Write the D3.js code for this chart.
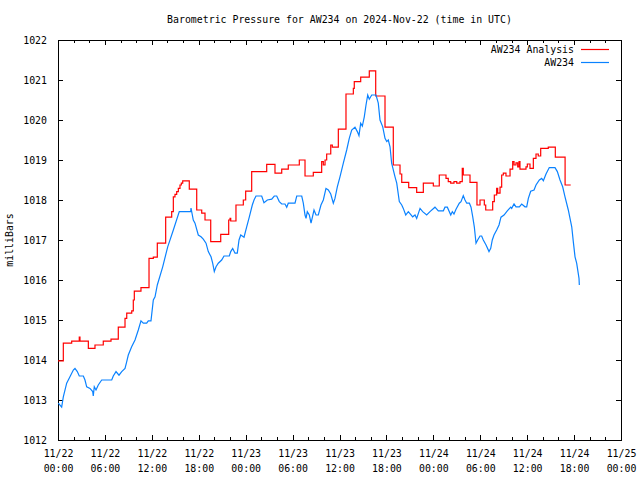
<!DOCTYPE html>
<html><head><meta charset="utf-8">
<script src="https://cdn.jsdelivr.net/npm/d3@7/dist/d3.min.js"></script>
<style>
html,body{margin:0;padding:0;background:#fff;}
text{font-family:"DejaVu Sans Mono",monospace;font-size:9.9px;fill:#000;}
</style></head>
<body>
<svg id="chart" width="640" height="480"></svg>
<script>
// ---- data (hours since 2024-11-22 00:00 UTC, millibars) ----
const titleText = "Barometric Pressure for AW234 on 2024-Nov-22 (time in UTC)";
const yLabel = "milliBars";
const seriesNames = ["AW234 Analysis", "AW234"];
const xTickHours = [0,6,12,18,24,30,36,42,48,54,60,66,72];
const xTickDates = ["11/22","11/22","11/22","11/22","11/23","11/23","11/23","11/23","11/24","11/24","11/24","11/24","11/25"];
const xTickTimes = ["00:00","06:00","12:00","18:00","00:00","06:00","12:00","18:00","00:00","06:00","12:00","18:00","00:00"];
const xMinorHours = d3.range(0, 73, 2);
const yTicks = [1012,1013,1014,1015,1016,1017,1018,1019,1020,1021,1022];

const analysisHours = [0,0.68,1.75,2.72,2.81,3.88,4.73,5.79,6.78,7.71,8.57,8.79,9.43,9.63,9.76,10.61,11.64,12.19,12.70,13.77,14.54,14.75,14.96,15.18,15.39,15.60,15.77,15.95,16.79,17.74,18.38,18.80,19.53,20.81,21.83,22.00,22.09,22.76,23.70,24.00,24.77,26.69,27.75,28.61,29.45,30.86,31.59,32.65,33.72,33.93,34.15,34.36,34.88,35.08,35.85,36.83,37.77,37.89,38.71,39.81,40.63,41.82,42.88,43.74,43.96,44.85,45.87,46.72,48.00,48.76,49.62,49.91,50.22,50.64,50.99,51.41,51.70,51.83,52.69,53.58,53.97,54.52,54.70,55.59,55.80,56.10,56.23,56.53,56.74,56.95,57.29,57.81,58.15,58.32,58.57,58.79,58.96,59.08,59.85,60.02,60.36,60.79,61.13,61.42,61.73,62.70,63.60,64.85,65.57];
const analysisValues = [1013.98,1014.42,1014.47,1014.57,1014.47,1014.29,1014.375,1014.47,1014.52,1014.82,1015.04,1015.17,1015.23,1015.5,1015.72,1015.81,1016.54,1016.57,1016.92,1017.57,1017.71,1018.08,1018.14,1018.21,1018.29,1018.375,1018.42,1018.48,1018.27,1017.75,1017.67,1017.5,1016.96,1017.14,1017.5,1017.54,1017.475,1017.875,1018.0,1018.22,1018.71,1018.89,1018.67,1018.77,1018.875,1019.0,1018.6,1018.69,1018.96,1018.875,1019.0,1019.15,1019.375,1019.32,1019.77,1020.65,1020.79,1020.96,1021.07,1021.23,1020.6,1019.82,1018.875,1018.65,1018.44,1018.31,1018.19,1018.42,1018.35,1018.625,1018.54,1018.46,1018.42,1018.46,1018.42,1018.46,1018.79,1018.625,1018.44,1017.875,1018.0,1017.875,1017.75,1017.96,1018.125,1018.29,1018.17,1018.32,1018.625,1018.67,1018.6,1018.77,1018.96,1018.875,1018.93,1018.83,1018.96,1018.77,1018.83,1018.9,1018.79,1019.04,1019.15,1019.1,1019.29,1019.32,1019.07,1018.375,1018.375];

const obsHours = [0.04,0.47,0.68,1.11,1.53,1.96,2.17,2.47,2.72,3.24,3.45,3.67,4.09,4.44,4.51,4.64,4.86,5.15,5.59,6.87,7.07,7.42,7.80,8.15,8.57,8.79,8.99,9.42,9.85,10.27,10.61,10.91,11.34,11.55,11.89,12.19,12.41,12.70,13.39,14.03,14.75,15.51,16.97,17.01,17.30,17.52,17.94,18.29,18.58,18.93,19.22,19.57,19.78,19.99,20.21,20.50,20.93,21.23,21.91,22.09,22.34,22.64,22.93,23.15,23.37,23.79,24.13,24.47,24.85,25.07,25.32,26.05,26.34,26.77,27.33,27.66,27.97,28.30,28.61,29.03,29.25,29.45,30.31,30.53,31.17,31.37,31.59,31.72,31.88,32.14,32.36,32.74,33.00,33.29,33.63,33.93,34.27,34.57,34.88,35.21,35.42,35.72,36.06,36.49,36.92,37.25,37.56,37.98,38.28,38.49,38.71,38.92,39.17,39.39,39.61,39.81,40.12,40.67,40.96,41.18,41.53,41.82,42.04,42.24,42.46,42.67,43.10,43.32,43.65,43.96,44.16,44.47,44.80,45.36,45.66,45.87,46.30,46.64,47.15,47.57,48.21,48.64,49.28,49.49,49.79,50.23,50.43,50.64,50.90,51.32,51.54,51.83,52.05,52.27,52.61,52.82,53.04,53.24,53.46,53.67,53.97,54.18,54.39,54.74,55.12,55.34,55.54,55.76,56.10,56.40,56.65,57.04,57.46,57.89,58.02,58.32,58.57,59.00,59.30,59.72,59.94,60.15,60.45,60.88,61.13,61.56,61.86,62.07,62.41,62.83,63.56,63.86,64.20,64.54,64.84,65.26,65.70,65.90,66.12,66.33,66.63,66.67];
const obsValues = [1012.92,1012.82,1013.08,1013.42,1013.58,1013.75,1013.79,1013.71,1013.6,1013.6,1013.5,1013.33,1013.29,1013.21,1013.1,1013.33,1013.25,1013.375,1013.5,1013.5,1013.6,1013.71,1013.62,1013.71,1013.79,1013.96,1014.125,1014.33,1014.5,1014.75,1014.98,1014.92,1014.92,1014.98,1014.98,1015.5,1015.58,1015.875,1016.33,1016.83,1017.25,1017.71,1017.71,1017.8,1017.5,1017.42,1017.125,1017.08,1017.02,1016.92,1016.71,1016.58,1016.42,1016.21,1016.33,1016.42,1016.5,1016.6,1016.6,1016.71,1016.79,1016.67,1016.67,1017.0,1017.125,1017.07,1017.33,1017.58,1017.875,1018.0,1018.1,1018.1,1017.93,1018.0,1018.02,1018.1,1018.1,1017.96,1017.9,1017.9,1017.82,1017.92,1017.92,1018.1,1018.1,1017.92,1017.625,1017.54,1017.71,1017.625,1017.42,1017.75,1017.625,1017.625,1017.875,1018.0,1018.29,1018.25,1018.15,1017.92,1018.04,1018.33,1018.58,1018.92,1019.25,1019.54,1019.75,1019.82,1019.71,1019.61,1019.92,1019.85,1020.08,1020.375,1020.625,1020.52,1020.625,1020.625,1020.42,1020.0,1019.83,1019.54,1019.46,1019.5,1019.33,1018.92,1018.58,1018.42,1017.96,1017.875,1017.79,1017.625,1017.71,1017.58,1017.625,1017.54,1017.79,1017.71,1017.625,1017.71,1017.82,1017.73,1017.73,1017.82,1017.82,1017.625,1017.71,1017.65,1017.77,1017.92,1017.96,1018.11,1018.0,1017.92,1017.92,1017.82,1017.58,1017.33,1016.92,1017.0,1017.1,1017.1,1017.0,1016.875,1016.71,1016.79,1017.0,1017.125,1017.25,1017.375,1017.57,1017.625,1017.73,1017.82,1017.79,1017.9,1017.83,1017.83,1017.9,1017.83,1017.83,1018.04,1018.22,1018.25,1018.375,1018.5,1018.54,1018.48,1018.65,1018.81,1018.81,1018.71,1018.5,1018.33,1018.08,1017.75,1017.33,1016.96,1016.58,1016.42,1016.04,1015.875];

const colors = ["#ff0000", "#0a82ff"];

// ---- layout ----
const L = 58, R = 621, T = 40, B = 440;
const svg = d3.select("#chart");
const x = d3.scaleLinear().domain([0, 72]).range([L, R]);
const y = d3.scaleLinear().domain([1012, 1022]).range([B, T]);

// title
svg.append("text").attr("x", (L + R) / 2).attr("y", 23).attr("text-anchor", "middle").text(titleText);
// y label
svg.append("text").attr("transform", `translate(13,${(T + B) / 2}) rotate(-90)`)
  .attr("text-anchor", "middle").text(yLabel);

function cleanAxis(g) { g.select(".domain").remove(); g.selectAll(".tick line").attr("stroke", "#000"); }

// minor x ticks bottom & top
svg.append("g").attr("transform", `translate(0,${B})`)
  .call(d3.axisBottom(x).tickValues(xMinorHours).tickSize(-3).tickFormat(""))
  .call(cleanAxis).attr("shape-rendering", "crispEdges");
svg.append("g").attr("transform", `translate(0,${T})`)
  .call(d3.axisTop(x).tickValues(xMinorHours).tickSize(-3).tickFormat(""))
  .call(cleanAxis).attr("shape-rendering", "crispEdges");
// major x ticks
const xb = svg.append("g").attr("transform", `translate(0,${B})`)
  .call(d3.axisBottom(x).tickValues(xTickHours).tickSize(-5).tickFormat(""))
  .call(cleanAxis).attr("shape-rendering", "crispEdges");
svg.append("g").attr("transform", `translate(0,${T})`)
  .call(d3.axisTop(x).tickValues(xTickHours).tickSize(-5).tickFormat(""))
  .call(cleanAxis).attr("shape-rendering", "crispEdges");
xb.selectAll(".tick").each(function (d, i) {
  const t = d3.select(this);
  t.append("text").attr("y", 17).attr("text-anchor", "middle").attr("fill", "#000")
    .style("font-size", "9.9px").text(xTickDates[i]);
  t.append("text").attr("y", 32).attr("text-anchor", "middle").attr("fill", "#000")
    .style("font-size", "9.9px").text(xTickTimes[i]);
});
// y ticks left & right
svg.append("g").attr("transform", `translate(${L},0)`)
  .call(d3.axisLeft(y).tickValues(yTicks).tickSize(-5).tickPadding(11).tickFormat(d3.format("d")))
  .call(cleanAxis).attr("shape-rendering", "crispEdges")
  .call(g => g.selectAll(".tick text").attr("fill", "#000").style("font-size", "9.9px")
    .style("font-family", "'DejaVu Sans Mono',monospace"));
svg.append("g").attr("transform", `translate(${R},0)`)
  .call(d3.axisRight(y).tickValues(yTicks).tickSize(-5).tickFormat(""))
  .call(cleanAxis).attr("shape-rendering", "crispEdges");

// frame
svg.append("rect").attr("x", L + 0.5).attr("y", T + 0.5).attr("width", R - L).attr("height", B - T)
  .attr("fill", "none").attr("stroke", "#000").attr("shape-rendering", "crispEdges");

// series
const analysis = analysisHours.map((h, i) => [h, analysisValues[i]]);
const obs = obsHours.map((h, i) => [h, obsValues[i]]);
const lineStep = d3.line().x(d => x(d[0])).y(d => y(d[1])).curve(d3.curveStepAfter);
const lineLin = d3.line().x(d => x(d[0])).y(d => y(d[1]));
svg.append("path").datum(analysis).attr("d", lineStep).attr("fill", "none")
  .attr("stroke", colors[0]).attr("stroke-width", 1.2);
svg.append("path").datum(obs).attr("d", lineLin).attr("fill", "none")
  .attr("stroke", colors[1]).attr("stroke-width", 1.2);

// legend
const legY = [49, 62];
seriesNames.forEach((n, i) => {
  svg.append("text").attr("x", 574).attr("y", legY[i] + 3.5).attr("text-anchor", "end").text(n);
  svg.append("line").attr("x1", 581).attr("x2", 609).attr("y1", legY[i] + 0.5).attr("y2", legY[i] + 0.5)
    .attr("stroke", colors[i]).attr("stroke-width", 1.2);
});
</script>
</body></html>
